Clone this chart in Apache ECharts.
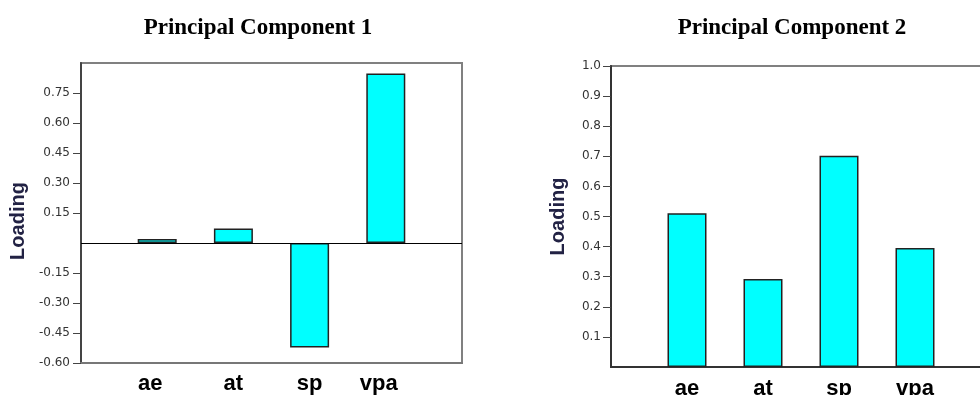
<!DOCTYPE html>
<html>
<head>
<meta charset="utf-8">
<script src="https://cdn.jsdelivr.net/npm/echarts@6/dist/echarts.min.js"></script>
<style>
html,body{margin:0;padding:0;background:#fff;}
#c{width:980px;height:395px;}
</style>
</head>
<body>
<div id="c"></div>
<script>
// ---- data ----
const categories = ['ae', 'at', 'sp', 'vpa'];
const pc1Values = [0.02, 0.072, -0.523, 0.847];
const pc2Values = [0.511, 0.292, 0.702, 0.395];
const pc1Ticks = [-0.60, -0.45, -0.30, -0.15, 0.15, 0.30, 0.45, 0.60, 0.75];
const pc2Ticks = [0.1, 0.2, 0.3, 0.4, 0.5, 0.6, 0.7, 0.8, 0.9, 1.0];
const titles = ['Principal Component 1', 'Principal Component 2'];
const yName = 'Loading';

// padded category list: empty slot at each end
const axisCats = [''].concat(categories, ['']);
// left panel labels sit slightly off-centre for the outer two categories
const labelShift = {ae: [0, 14, 0, 0], vpa: [0, 14, 0, 0]};
const axisCatsLeft = axisCats.map(c => labelShift[c] ? {value: c, textStyle: {padding: labelShift[c]}} : c);
const pad = arr => ['-'].concat(arr, ['-']);

const chart = echarts.init(document.getElementById('c'));

const xLabelStyle = {
  interval: 0,
  fontFamily: 'Liberation Sans, Arial, sans-serif',
  fontWeight: 'bold',
  fontSize: 22,
  color: '#000'
};
const yLabelStyle = {
  fontFamily: 'DejaVu Sans, sans-serif',
  fontSize: 12,
  color: '#333'
};
const nameStyle = {
  fontFamily: 'Liberation Sans, Arial, sans-serif',
  fontWeight: 'bold',
  fontSize: 20,
  color: '#222244'
};
const barStyle = {
  color: '#00ffff',
  borderColor: '#222',
  borderWidth: 1.5
};
const titleStyle = {fontFamily: 'Liberation Serif, Times New Roman, serif', fontWeight: 'bold', fontSize: 23, color: '#000'};

const option = {
  animation: false,
  backgroundColor: '#fff',
  title: [
    {text: titles[0], left: 253, top: 12, textAlign: 'center', textStyle: titleStyle},
    {text: titles[1], left: 787, top: 12, textAlign: 'center', textStyle: titleStyle}
  ],
  grid: [
    {left: 81, right: 518, top: 63, bottom: 32, outerBoundsMode: 'none', containLabel: false,
     show: true, borderColor: '#808080', borderWidth: 2, backgroundColor: 'transparent'},
    {left: 611, right: -11, top: 66, bottom: 28, outerBoundsMode: 'none', containLabel: false,
     show: true, borderColor: '#808080', borderWidth: 2, backgroundColor: 'transparent'}
  ],
  xAxis: [
    {
      gridIndex: 0, type: 'category', data: axisCatsLeft, boundaryGap: false,
      axisLine: {onZero: false, lineStyle: {color: '#777', width: 2}},
      axisTick: {show: false},
      axisLabel: Object.assign({margin: 10}, xLabelStyle),
      splitLine: {show: false}
    },
    {
      gridIndex: 1, type: 'category', data: axisCats, boundaryGap: false,
      axisLine: {onZero: false, lineStyle: {color: '#333', width: 2}},
      axisTick: {show: false},
      axisLabel: Object.assign({margin: 11}, xLabelStyle),
      splitLine: {show: false}
    }
  ],
  yAxis: [
    {
      gridIndex: 0, type: 'value', min: -0.6, max: 0.9, interval: 0.15,
      name: yName, nameLocation: 'middle', nameRotate: 90, nameGap: 53,
      nameTextStyle: Object.assign({padding: [0, 16, 0, 0]}, nameStyle),
      axisLine: {show: true, lineStyle: {color: '#444', width: 2}},
      axisTick: {show: true, length: 8, customValues: pc1Ticks, lineStyle: {color: '#444', width: 1}},
      axisLabel: Object.assign({margin: 11, customValues: pc1Ticks, formatter: v => v.toFixed(2)}, yLabelStyle),
      splitLine: {show: false}
    },
    {
      gridIndex: 1, type: 'value', min: 0, max: 1.0, interval: 0.1,
      name: yName, nameLocation: 'middle', nameRotate: 90, nameGap: 43,
      nameTextStyle: nameStyle,
      axisLine: {show: true, lineStyle: {color: '#333', width: 2}},
      axisTick: {show: true, length: 8, customValues: pc2Ticks, lineStyle: {color: '#444', width: 1}},
      axisLabel: Object.assign({margin: 10, customValues: pc2Ticks, formatter: v => v.toFixed(1)}, yLabelStyle),
      splitLine: {show: false}
    }
  ],
  series: [
    {
      type: 'bar', xAxisIndex: 0, yAxisIndex: 0, barWidth: 39,
      data: pad(pc1Values), itemStyle: barStyle, silent: true,
      markLine: {
        silent: true, symbol: ['none', 'none'], label: {show: false},
        lineStyle: {color: '#000', width: 1, type: 'solid'},
        data: [{yAxis: 0}]
      }
    },
    {
      type: 'bar', xAxisIndex: 1, yAxisIndex: 1, barWidth: 39,
      data: pad(pc2Values), itemStyle: barStyle, silent: true
    }
  ]
};
chart.setOption(option);
</script>
</body>
</html>
